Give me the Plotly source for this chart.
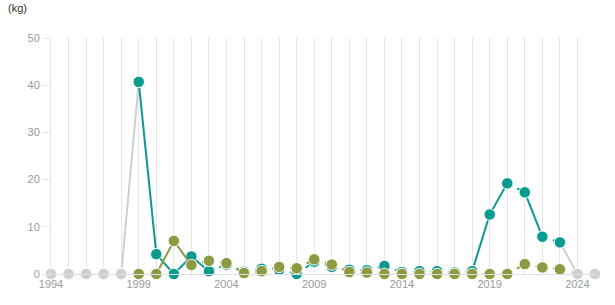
import plotly.graph_objects as go

# ---- data ----
years = list(range(1994, 2026))
series_a = [0, 0, 0, 0, 0,
            40.7, 4.2, 0, 3.7, 0.6, 2.0, 0.5, 1.1, 0.9, 0, 2.6, 1.5, 0.9, 0.8, 1.7,
            0.4, 0.6, 0.6, 0.3, 0.6, 12.6, 19.2, 17.3, 7.9, 6.7,
            0, 0]
series_b = [0, 0, 0, 0, 0,
            0, 0, 7.0, 1.9, 2.8, 2.3, 0.2, 0.6, 1.5, 1.2, 3.1, 2.0, 0.4, 0.3, 0,
            0, 0, 0, 0, 0, 0, 0, 2.1, 1.4, 1.0,
            0, 0]
data_start, data_end = 1999, 2023
x_ticks = [1994, 1999, 2004, 2009, 2014, 2019, 2024]
y_ticks = [0, 10, 20, 30, 40, 50]
unit_label = "(kg)"

TEAL = "#0a9a90"
OLIVE = "#8e9a42"
GRAY = "#cfcfcf"
DASH = "6px,5px"

fig = go.Figure()


def add_series(xs, ys, color):
    groups = {}
    for i in range(len(xs) - 1):
        x0, x1, y0, y1 = xs[i], xs[i + 1], ys[i], ys[i + 1]
        c = GRAY if (x0 < data_start or x1 > data_end) else color
        d = "solid" if abs(y1 - y0) >= 3 else DASH
        g = groups.setdefault((c, d), ([], []))
        g[0].extend([x0, x1, None])
        g[1].extend([y0, y1, None])
    for (c, d), (gx, gy) in groups.items():
        fig.add_trace(go.Scatter(x=gx, y=gy, mode="lines",
                                 line=dict(color=c, width=2, dash=d),
                                 hoverinfo="skip", showlegend=False,
                                 cliponaxis=False))
    mcolors = [GRAY if (x < data_start or x > data_end) else color for x in xs]
    fig.add_trace(go.Scatter(x=xs, y=ys, mode="markers",
                             marker=dict(size=11.5, color=mcolors,
                                         line=dict(color="white", width=1)),
                             showlegend=False, cliponaxis=False))


add_series(years, series_a, TEAL)
add_series(years, series_b, OLIVE)

fig.update_layout(
    width=615, height=305,
    margin=dict(l=51, r=20, t=38, b=31),
    paper_bgcolor="white", plot_bgcolor="white",
    font=dict(family="Liberation Sans, Arial, sans-serif", size=11, color="#999999"),
    showlegend=False,
    annotations=[dict(text=unit_label, xref="paper", yref="paper",
                      x=-51 / 544, y=1 + 38 / 236, xanchor="left", yanchor="top",
                      yshift=0, xshift=6, showarrow=False,
                      font=dict(size=11, color="#3a3020"))],
)
fig.update_xaxes(
    range=[1994, 2025], tickvals=x_ticks, ticktext=[str(v) for v in x_ticks],
    showgrid=True, gridcolor="#e6e6e6", gridwidth=1,
    minor=dict(dtick=1, tick0=1994, showgrid=True, gridcolor="#e6e6e6", gridwidth=1),
    showline=True, linecolor="#e0e0e0", linewidth=1,
    ticks="", zeroline=False, tickfont=dict(color="#999999", size=11),
)
fig.update_yaxes(
    range=[0, 50], tickvals=y_ticks, showgrid=False, zeroline=False,
    showline=True, linecolor="#e6e6e6", linewidth=1,
    ticks="outside", ticklen=8, tickcolor="#e6e6e6",
    tickfont=dict(color="#999999", size=11),
)

fig.write_html("out.html")
